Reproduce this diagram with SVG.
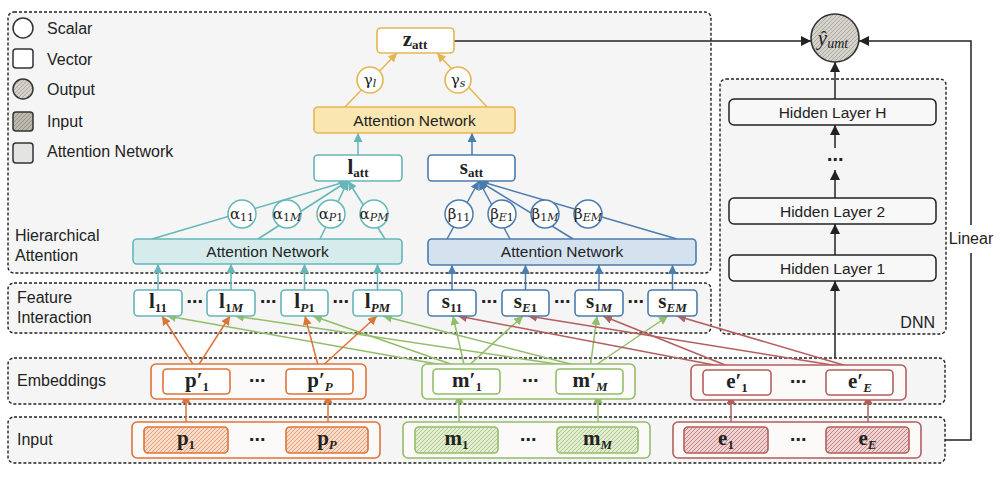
<svg xmlns="http://www.w3.org/2000/svg" width="1000" height="478" viewBox="0 0 1000 478">
<defs>
<style>
.panel{fill:#f5f5f5;stroke:#222;stroke-width:1.4;stroke-dasharray:3 2}
.lbl{font-family:"Liberation Sans",Arial,sans-serif;font-size:16px;fill:#222}
.net{font-family:"Liberation Sans",Arial,sans-serif;font-size:15.5px;fill:#222;text-anchor:middle}
.v{font-family:"Liberation Serif","Times New Roman",serif;font-weight:bold;font-size:21px;fill:#222;text-anchor:middle}
.sb{font-size:13px}
.it{font-style:italic}
.g{font-family:"DejaVu Serif","Liberation Serif",serif;font-size:15px;fill:#222;text-anchor:middle}
.gs{font-size:11px}
.dots{font-family:"DejaVu Sans",sans-serif;font-size:16px;font-weight:bold;fill:#222;text-anchor:middle}
.box{fill:#fff;stroke-width:1.6}
.teal{stroke:#64b6b9}
.blue{stroke:#4a7cae}
.yel{stroke:#e6b552}
.ora{stroke:#dd743a}
.grn{stroke:#93bd68}
.red{stroke:#b45e5e}
.blk{stroke:#222}
.ln{fill:none;stroke-width:1.5}
.hl{fill:#f8f8f8;stroke:#222;stroke-width:1.5}
</style>
<marker id="aT" viewBox="0 0 10 10" refX="10" refY="5" markerWidth="9" markerHeight="9" markerUnits="userSpaceOnUse" orient="auto"><path d="M0,0 L10,5 L0,10 z" fill="#64b6b9"/></marker>
<marker id="aB" viewBox="0 0 10 10" refX="10" refY="5" markerWidth="9" markerHeight="9" markerUnits="userSpaceOnUse" orient="auto"><path d="M0,0 L10,5 L0,10 z" fill="#4a7cae"/></marker>
<marker id="aY" viewBox="0 0 10 10" refX="10" refY="5" markerWidth="9" markerHeight="9" markerUnits="userSpaceOnUse" orient="auto"><path d="M0,0 L10,5 L0,10 z" fill="#e6b552"/></marker>
<marker id="aO" viewBox="0 0 10 10" refX="10" refY="5" markerWidth="9" markerHeight="9" markerUnits="userSpaceOnUse" orient="auto"><path d="M0,0 L10,5 L0,10 z" fill="#dd743a"/></marker>
<marker id="aG" viewBox="0 0 10 10" refX="10" refY="5" markerWidth="9" markerHeight="9" markerUnits="userSpaceOnUse" orient="auto"><path d="M0,0 L10,5 L0,10 z" fill="#93bd68"/></marker>
<marker id="aR" viewBox="0 0 10 10" refX="10" refY="5" markerWidth="9" markerHeight="9" markerUnits="userSpaceOnUse" orient="auto"><path d="M0,0 L10,5 L0,10 z" fill="#b45e5e"/></marker>
<marker id="aK" viewBox="0 0 10 10" refX="10" refY="5" markerWidth="10" markerHeight="10" markerUnits="userSpaceOnUse" orient="auto"><path d="M0,0 L10,5 L0,10 z" fill="#222"/></marker>
<pattern id="hO" patternUnits="userSpaceOnUse" width="4" height="4"><rect width="4" height="4" fill="#f9dcc9"/><path d="M-1,1 l2,-2 M0,4 l4,-4 M3,5 l2,-2" stroke="#e49a6e" stroke-width="0.9"/></pattern>
<pattern id="hG" patternUnits="userSpaceOnUse" width="4" height="4"><rect width="4" height="4" fill="#e2edd2"/><path d="M-1,1 l2,-2 M0,4 l4,-4 M3,5 l2,-2" stroke="#a6c783" stroke-width="0.9"/></pattern>
<pattern id="hR" patternUnits="userSpaceOnUse" width="4" height="4"><rect width="4" height="4" fill="#efd3d3"/><path d="M-1,1 l2,-2 M0,4 l4,-4 M3,5 l2,-2" stroke="#c27b7b" stroke-width="0.9"/></pattern>
<pattern id="hK" patternUnits="userSpaceOnUse" width="4" height="4"><rect width="4" height="4" fill="#d6d3cc"/><path d="M-1,1 l2,-2 M0,4 l4,-4 M3,5 l2,-2" stroke="#a8a49a" stroke-width="0.9"/></pattern>
<pattern id="hK2" patternUnits="userSpaceOnUse" width="4" height="4"><rect width="4" height="4" fill="#bdb9ae"/><path d="M-1,1 l2,-2 M0,4 l4,-4 M3,5 l2,-2" stroke="#948f83" stroke-width="0.9"/></pattern>
</defs>
<rect width="1000" height="478" fill="#fff"/>

<g id="panels">
<rect class="panel" x="8" y="12" width="703" height="261" rx="6"/>
<rect class="panel" x="8" y="283" width="703" height="50" rx="6"/>
<rect class="panel" x="720" y="79" width="226" height="255" rx="6"/>
<rect class="panel" x="8" y="358" width="937" height="46" rx="6"/>
<rect class="panel" x="8" y="417" width="937" height="46" rx="6"/>
<text class="lbl" x="15" y="241">Hierarchical</text>
<text class="lbl" x="15" y="261">Attention</text>
<text class="lbl" x="17" y="303">Feature</text>
<text class="lbl" x="17" y="323">Interaction</text>
<text class="lbl" x="17" y="386">Embeddings</text>
<text class="lbl" x="17" y="445">Input</text>
<text class="lbl" x="935" y="328" text-anchor="end">DNN</text>
</g>

<g id="legend">
<circle cx="23" cy="28" r="10" fill="#fff" stroke="#333" stroke-width="1.5"/>
<text class="lbl" x="47" y="34">Scalar</text>
<rect x="13" y="49" width="20" height="19" rx="3" fill="#fff" stroke="#333" stroke-width="1.5"/>
<text class="lbl" x="47" y="65">Vector</text>
<circle cx="23" cy="89" r="10" fill="url(#hK)" stroke="#333" stroke-width="1.5"/>
<text class="lbl" x="47" y="95">Output</text>
<rect x="13" y="112" width="20" height="19" rx="3" fill="url(#hK2)" stroke="#333" stroke-width="1.5"/>
<text class="lbl" x="47" y="127">Input</text>
<rect x="13" y="143" width="20" height="20" rx="3" fill="#e4e4e2" stroke="#333" stroke-width="1.5"/>
<text class="lbl" x="47" y="157">Attention Network</text>
</g>

<g id="connectors">
<line class="ln teal" x1="152" y1="239" x2="348" y2="181" marker-end="url(#aT)"/>
<line class="ln teal" x1="258" y1="239" x2="348" y2="181" marker-end="url(#aT)"/>
<line class="ln teal" x1="320" y1="239" x2="348" y2="181" marker-end="url(#aT)"/>
<line class="ln teal" x1="385" y1="239" x2="348" y2="181" marker-end="url(#aT)"/>
<line class="ln blue" x1="447" y1="239" x2="479" y2="181" marker-end="url(#aB)"/>
<line class="ln blue" x1="510" y1="239" x2="479" y2="181" marker-end="url(#aB)"/>
<line class="ln blue" x1="573" y1="239" x2="479" y2="181" marker-end="url(#aB)"/>
<line class="ln blue" x1="677" y1="239" x2="479" y2="181" marker-end="url(#aB)"/>
<line class="ln yel" x1="345" y1="107" x2="397" y2="53" marker-end="url(#aY)"/>
<line class="ln yel" x1="487" y1="107" x2="437" y2="53" marker-end="url(#aY)"/>
<line class="ln teal" x1="358" y1="155" x2="358" y2="133" marker-end="url(#aT)"/>
<line class="ln blue" x1="472" y1="155" x2="472" y2="133" marker-end="url(#aB)"/>
<line class="ln teal" x1="158" y1="290" x2="158" y2="264" marker-end="url(#aT)"/>
<line class="ln teal" x1="231" y1="290" x2="231" y2="264" marker-end="url(#aT)"/>
<line class="ln teal" x1="304.5" y1="290" x2="304.5" y2="264" marker-end="url(#aT)"/>
<line class="ln teal" x1="377.5" y1="290" x2="377.5" y2="264" marker-end="url(#aT)"/>
<line class="ln blue" x1="452" y1="290" x2="452" y2="265" marker-end="url(#aB)"/>
<line class="ln blue" x1="525.5" y1="290" x2="525.5" y2="265" marker-end="url(#aB)"/>
<line class="ln blue" x1="599" y1="290" x2="599" y2="265" marker-end="url(#aB)"/>
<line class="ln blue" x1="672.5" y1="290" x2="672.5" y2="265" marker-end="url(#aB)"/>
<line class="ln grn" x1="465" y1="369" x2="167" y2="316" marker-end="url(#aG)"/>
<line class="ln grn" x1="465" y1="369" x2="313" y2="316" marker-end="url(#aG)"/>
<line class="ln grn" x1="465" y1="369" x2="453" y2="316" marker-end="url(#aG)"/>
<line class="ln grn" x1="465" y1="369" x2="523" y2="316" marker-end="url(#aG)"/>
<line class="ln grn" x1="590" y1="369" x2="235" y2="316" marker-end="url(#aG)"/>
<line class="ln grn" x1="590" y1="369" x2="383" y2="316" marker-end="url(#aG)"/>
<line class="ln grn" x1="590" y1="369" x2="597" y2="316" marker-end="url(#aG)"/>
<line class="ln grn" x1="590" y1="369" x2="668" y2="316" marker-end="url(#aG)"/>
<line class="ln red" x1="735" y1="369" x2="458" y2="316" marker-end="url(#aR)"/>
<line class="ln red" x1="735" y1="369" x2="603" y2="316" marker-end="url(#aR)"/>
<line class="ln red" x1="857" y1="369" x2="528" y2="316" marker-end="url(#aR)"/>
<line class="ln red" x1="857" y1="369" x2="677" y2="316" marker-end="url(#aR)"/>
<line class="ln ora" x1="196" y1="369" x2="162" y2="316" marker-end="url(#aO)"/>
<line class="ln ora" x1="196" y1="369" x2="230" y2="316" marker-end="url(#aO)"/>
<line class="ln ora" x1="319" y1="369" x2="305" y2="316" marker-end="url(#aO)"/>
<line class="ln ora" x1="319" y1="369" x2="377" y2="316" marker-end="url(#aO)"/>
<line class="ln ora" x1="186" y1="427" x2="186" y2="394" marker-end="url(#aO)"/>
<line class="ln ora" x1="328" y1="427" x2="328" y2="394" marker-end="url(#aO)"/>
<line class="ln grn" x1="459" y1="427" x2="459" y2="394" marker-end="url(#aG)"/>
<line class="ln grn" x1="598" y1="427" x2="598" y2="394" marker-end="url(#aG)"/>
<line class="ln red" x1="731" y1="427" x2="731" y2="395" marker-end="url(#aR)"/>
<line class="ln red" x1="868" y1="427" x2="868" y2="395" marker-end="url(#aR)"/>
<line class="ln blk" x1="835" y1="358" x2="835" y2="281" marker-end="url(#aK)"/>
<line class="ln blk" x1="835" y1="255" x2="835" y2="224" marker-end="url(#aK)"/>
<line class="ln blk" x1="835" y1="198" x2="835" y2="170" marker-end="url(#aK)"/>
<line class="ln blk" x1="835" y1="148" x2="835" y2="125" marker-end="url(#aK)"/>
<line class="ln blk" x1="835" y1="99" x2="835" y2="62" marker-end="url(#aK)"/>
<line class="ln blk" x1="454" y1="41" x2="811" y2="41" marker-end="url(#aK)"/>
<path class="ln blk" d="M945,440 H971 V253 M971,225 V41 H859" marker-end="url(#aK)"/>
<text class="lbl" x="971" y="244" text-anchor="middle">Linear</text>
</g>

<g id="output">
<circle cx="835" cy="38" r="24" fill="url(#hK)" stroke="#333" stroke-width="1.6"/>
<text x="833" y="45" font-family="Liberation Serif,serif" font-style="italic" font-size="21" fill="#222" text-anchor="middle">ŷ<tspan font-size="14" dy="3">umt</tspan></text>
</g>

<g id="z_att">
<rect class="box yel" x="377" y="28" width="77" height="25" rx="4"/>
<text class="v" x="415" y="46">z<tspan class="sb" dy="3">att</tspan></text>
</g>
<g id="gamma_l"><circle cx="370" cy="80" r="13" fill="#fff" stroke="#e6b552" stroke-width="1.6"/><text class="g" x="370" y="85" font-size="16">γ<tspan class="gs it" dy="2" font-size="12">l</tspan></text></g>
<g id="gamma_s"><circle cx="458" cy="80" r="13" fill="#fff" stroke="#e6b552" stroke-width="1.6"/><text class="g" x="458" y="85" font-size="16">γ<tspan class="gs it" dy="2" font-size="12">s</tspan></text></g>
<g id="att_top">
<rect x="314" y="107" width="201" height="26" rx="4" fill="#fae6b0" stroke="#e6b552" stroke-width="1.6"/>
<text class="net" x="414.5" y="125.5">Attention Network</text>
</g>
<g id="l_att">
<rect class="box teal" x="314" y="155" width="88" height="26" rx="4"/>
<text class="v" x="358" y="174">l<tspan class="sb" dy="3">att</tspan></text>
</g>
<g id="s_att">
<rect class="box blue" x="428" y="155" width="87" height="26" rx="4"/>
<text class="v" x="471.5" y="174">s<tspan class="sb" dy="3">att</tspan></text>
</g>

<g id="alpha">
<circle cx="242" cy="214" r="14" fill="#fff" stroke="#64b6b9" stroke-width="1.5"/><text class="g" x="242" y="219">α<tspan class="gs" dy="2">11</tspan></text>
<circle cx="287" cy="214" r="14" fill="#fff" stroke="#64b6b9" stroke-width="1.5"/><text class="g" x="287" y="219">α<tspan class="gs" dy="2">1<tspan class="it">M</tspan></tspan></text>
<circle cx="331" cy="214" r="14" fill="#fff" stroke="#64b6b9" stroke-width="1.5"/><text class="g" x="331" y="219">α<tspan class="gs" dy="2"><tspan class="it">P</tspan>1</tspan></text>
<circle cx="374" cy="214" r="14" fill="#fff" stroke="#64b6b9" stroke-width="1.5"/><text class="g" x="374" y="219">α<tspan class="gs it" dy="2">PM</tspan></text>
</g>
<g id="beta">
<circle cx="459" cy="214" r="14" fill="#fff" stroke="#4a7cae" stroke-width="1.5"/><text class="g" x="459" y="219">β<tspan class="gs" dy="2">11</tspan></text>
<circle cx="502" cy="214" r="14" fill="#fff" stroke="#4a7cae" stroke-width="1.5"/><text class="g" x="502" y="219">β<tspan class="gs" dy="2"><tspan class="it">E</tspan>1</tspan></text>
<circle cx="545" cy="214" r="14" fill="#fff" stroke="#4a7cae" stroke-width="1.5"/><text class="g" x="545" y="219">β<tspan class="gs" dy="2">1<tspan class="it">M</tspan></tspan></text>
<circle cx="588" cy="214" r="14" fill="#fff" stroke="#4a7cae" stroke-width="1.5"/><text class="g" x="588" y="219">β<tspan class="gs it" dy="2">EM</tspan></text>
</g>

<g id="att_left">
<rect x="133" y="239" width="269" height="25" rx="4" fill="#d6ecec" stroke="#64b6b9" stroke-width="1.6"/>
<text class="net" x="267.5" y="257">Attention Network</text>
</g>
<g id="att_right">
<rect x="428" y="239" width="268" height="26" rx="4" fill="#d4e2f0" stroke="#4a7cae" stroke-width="1.6"/>
<text class="net" x="562" y="257">Attention Network</text>
</g>

<g id="l_boxes">
<rect class="box teal" x="134" y="290" width="48" height="26" rx="4"/><text class="v" x="158" y="308">l<tspan class="sb" dy="4">11</tspan></text>
<text class="dots" x="194.5" y="307">⋯</text>
<rect class="box teal" x="207" y="290" width="48" height="26" rx="4"/><text class="v" x="231" y="308">l<tspan class="sb" dy="4">1<tspan class="it">M</tspan></tspan></text>
<text class="dots" x="268" y="307">⋯</text>
<rect class="box teal" x="281" y="290" width="47" height="26" rx="4"/><text class="v" x="304.5" y="308">l<tspan class="sb" dy="4"><tspan class="it">P</tspan>1</tspan></text>
<text class="dots" x="340.5" y="307">⋯</text>
<rect class="box teal" x="353" y="290" width="49" height="26" rx="4"/><text class="v" x="377.5" y="308">l<tspan class="sb it" dy="4">PM</tspan></text>
</g>
<g id="s_boxes">
<rect class="box blue" x="428" y="290" width="48" height="26" rx="4"/><text class="v" x="452" y="308">s<tspan class="sb" dy="4">11</tspan></text>
<text class="dots" x="489" y="307">⋯</text>
<rect class="box blue" x="502" y="290" width="47" height="26" rx="4"/><text class="v" x="525.5" y="308">s<tspan class="sb" dy="4"><tspan class="it">E</tspan>1</tspan></text>
<text class="dots" x="562" y="307">⋯</text>
<rect class="box blue" x="575" y="290" width="48" height="26" rx="4"/><text class="v" x="599" y="308">s<tspan class="sb" dy="4">1<tspan class="it">M</tspan></tspan></text>
<text class="dots" x="635.5" y="307">⋯</text>
<rect class="box blue" x="648" y="290" width="49" height="26" rx="4"/><text class="v" x="672.5" y="308">s<tspan class="sb it" dy="4">EM</tspan></text>
</g>

<g id="emb_p">
<rect x="151" y="364" width="215" height="35" rx="5" fill="#fbfaf9" stroke="#dd743a" stroke-width="1.6"/>
<rect class="box ora" x="163" y="369" width="67" height="25" rx="4"/><text class="v" x="197" y="387">p′<tspan class="sb" dy="4">1</tspan></text>
<text class="dots" x="257" y="386">⋯</text>
<rect class="box ora" x="286" y="369" width="67" height="25" rx="4"/><text class="v" x="320" y="387">p′<tspan class="sb it" dy="4">P</tspan></text>
</g>
<g id="emb_m">
<rect x="422" y="364" width="213" height="35" rx="5" fill="#fbfaf9" stroke="#93bd68" stroke-width="1.6"/>
<rect class="box grn" x="433" y="369" width="67" height="25" rx="4"/><text class="v" x="467" y="387">m′<tspan class="sb" dy="4">1</tspan></text>
<text class="dots" x="530" y="386">⋯</text>
<rect class="box grn" x="556" y="369" width="67" height="25" rx="4"/><text class="v" x="590" y="387">m′<tspan class="sb it" dy="4">M</tspan></text>
</g>
<g id="emb_e">
<rect x="691" y="365" width="215" height="35" rx="5" fill="#fbfaf9" stroke="#b45e5e" stroke-width="1.6"/>
<rect class="box red" x="703" y="370" width="68" height="25" rx="4"/><text class="v" x="737" y="388">e′<tspan class="sb" dy="4">1</tspan></text>
<text class="dots" x="798" y="387">⋯</text>
<rect class="box red" x="826" y="370" width="67" height="25" rx="4"/><text class="v" x="860" y="388">e′<tspan class="sb it" dy="4">E</tspan></text>
</g>

<g id="in_p">
<rect x="132" y="422" width="248" height="36" rx="5" fill="#fbfaf9" stroke="#dd743a" stroke-width="1.6"/>
<rect x="144" y="427" width="84" height="26" rx="4" fill="url(#hO)" stroke="#dd743a" stroke-width="1.6"/><text class="v" x="186" y="445">p<tspan class="sb" dy="4">1</tspan></text>
<text class="dots" x="257" y="445">⋯</text>
<rect x="286" y="427" width="82" height="26" rx="4" fill="url(#hO)" stroke="#dd743a" stroke-width="1.6"/><text class="v" x="327" y="445">p<tspan class="sb it" dy="4">P</tspan></text>
</g>
<g id="in_m">
<rect x="403" y="422" width="247" height="36" rx="5" fill="#fbfaf9" stroke="#93bd68" stroke-width="1.6"/>
<rect x="415" y="427" width="83" height="26" rx="4" fill="url(#hG)" stroke="#93bd68" stroke-width="1.6"/><text class="v" x="456.5" y="445">m<tspan class="sb" dy="4">1</tspan></text>
<text class="dots" x="528" y="445">⋯</text>
<rect x="557" y="427" width="81" height="26" rx="4" fill="url(#hG)" stroke="#93bd68" stroke-width="1.6"/><text class="v" x="597.5" y="445">m<tspan class="sb it" dy="4">M</tspan></text>
</g>
<g id="in_e">
<rect x="673" y="422" width="248" height="36" rx="5" fill="#fbfaf9" stroke="#b45e5e" stroke-width="1.6"/>
<rect x="684" y="427" width="84" height="26" rx="4" fill="url(#hR)" stroke="#b45e5e" stroke-width="1.6"/><text class="v" x="726" y="445">e<tspan class="sb" dy="4">1</tspan></text>
<text class="dots" x="798" y="445">⋯</text>
<rect x="826" y="427" width="83" height="26" rx="4" fill="url(#hR)" stroke="#b45e5e" stroke-width="1.6"/><text class="v" x="867.5" y="445">e<tspan class="sb it" dy="4">E</tspan></text>
</g>

<g id="hidden_H"><rect class="hl" x="729" y="99" width="207" height="26" rx="5"/><text class="net" x="832.5" y="117.5">Hidden Layer H</text></g>
<g id="hidden_dots"><text class="dots" x="835" y="165">⋯</text></g>
<g id="hidden_2"><rect class="hl" x="729" y="198" width="207" height="26" rx="5"/><text class="net" x="832.5" y="216.5">Hidden Layer 2</text></g>
<g id="hidden_1"><rect class="hl" x="729" y="255" width="207" height="26" rx="5"/><text class="net" x="832.5" y="273.5">Hidden Layer 1</text></g>
</svg>
